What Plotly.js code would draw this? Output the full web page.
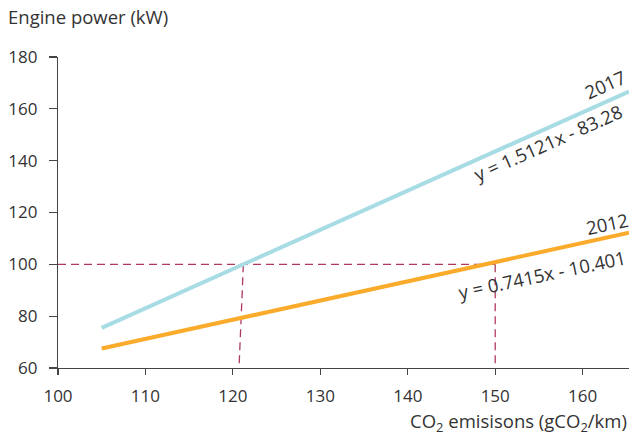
<!DOCTYPE html>
<html>
<head>
<meta charset="utf-8">
<script src="https://cdn.plot.ly/plotly-3.0.1.min.js"></script>
<style>html,body{margin:0;padding:0;background:#fff;}#chart{width:634px;height:436px;}</style>
</head>
<body>
<div id="chart"></div>
<script>
// Data
const years = ["2017", "2012"];
const x2017 = [105, 165.3];
const y2017 = [75.5, 166.7];
const x2012 = [105, 165.3];
const y2012 = [67.5, 112.2];
const equations = ["y = 1.5121x - 83.28", "y = 0.7415x - 10.401"];
const refPower = 100;            // kW reference level
const refCO2_2017 = [121.2, 120.7]; // CO2 at 100 kW (2017), top→bottom
const refCO2_2012 = 150;         // CO2 at 100 kW (2012)
const xTicks = [100, 110, 120, 130, 140, 150, 160];
const yTicks = [60, 80, 100, 120, 140, 160, 180];

const FONT = "'Open Sans', 'Noto Sans', sans-serif";
const TXT = "#333333";
const dashColor = "#b03a5e";
const TS = 17;   // tick font size
const LS = 18.5; // label font size

const traces = [
  {x: [100, refCO2_2012], y: [refPower, refPower], mode: "lines",
   line: {color: dashColor, width: 1.3, dash: "8px,5px"}, hoverinfo: "skip"},
  {x: refCO2_2017, y: [refPower, 60], mode: "lines",
   line: {color: dashColor, width: 1.3, dash: "8px,5px"}, hoverinfo: "skip"},
  {x: [refCO2_2012, refCO2_2012], y: [refPower, 60], mode: "lines",
   line: {color: dashColor, width: 1.3, dash: "8px,5px"}, hoverinfo: "skip"},
  {x: x2017, y: y2017, mode: "lines", name: years[0],
   line: {color: "#a8dce5", width: 4}},
  {x: x2012, y: y2012, mode: "lines", name: years[1],
   line: {color: "#fbab2c", width: 4}}
];

const layout = {
  width: 634, height: 436,
  margin: {l: 58, r: 5, t: 57, b: 68},
  paper_bgcolor: "#fff", plot_bgcolor: "#fff",
  showlegend: false,
  font: {family: FONT, size: TS, color: TXT},
  xaxis: {
    range: [100, 165.3], tickvals: xTicks, ticktext: xTicks.map(String),
    showgrid: false, zeroline: false, showline: true, linecolor: "#444", linewidth: 1.2,
    ticks: "outside", ticklen: 6, tickcolor: "#444", tickwidth: 1.2,
    ticklabelstandoff: 6,
    tickfont: {family: FONT, size: TS, color: TXT}, fixedrange: true
  },
  yaxis: {
    range: [60, 180], tickvals: yTicks, ticktext: yTicks.map(String),
    showgrid: false, zeroline: false, showline: true, linecolor: "#444", linewidth: 1.2,
    ticks: "outside", ticklen: 8, tickcolor: "#444", tickwidth: 1.2,
    ticklabelstandoff: 8,
    tickfont: {family: FONT, size: TS, color: TXT}, fixedrange: true
  },
  annotations: [
    {text: "Engine power (kW)", xref: "paper", yref: "paper", x: -0.091, y: 1.129,
     xanchor: "left", yanchor: "middle", showarrow: false, font: {size: LS, color: TXT}},
    {text: "CO<sub>2</sub> emisisons (gCO<sub>2</sub>/km)", xref: "paper", yref: "paper",
     x: 1, y: -0.173, xanchor: "right", yanchor: "middle", showarrow: false,
     font: {size: LS, color: TXT}},
    {text: years[0], x: 162.5, y: 169.3, textangle: -24, showarrow: false,
     xanchor: "center", yanchor: "middle", font: {size: LS, color: TXT}},
    {text: equations[0], x: 156.0, y: 147.1, textangle: -24, showarrow: false,
     xanchor: "center", yanchor: "middle", font: {size: LS, color: TXT}},
    {text: years[1], x: 162.8, y: 115.6, textangle: -12, showarrow: false,
     xanchor: "center", yanchor: "middle", font: {size: LS, color: TXT}},
    {text: equations[1], x: 155.3, y: 95.9, textangle: -12, showarrow: false,
     xanchor: "center", yanchor: "middle", font: {size: LS, color: TXT}}
  ]
};

Plotly.newPlot("chart", traces, layout, {displayModeBar: false, staticPlot: true});
</script>
</body>
</html>
